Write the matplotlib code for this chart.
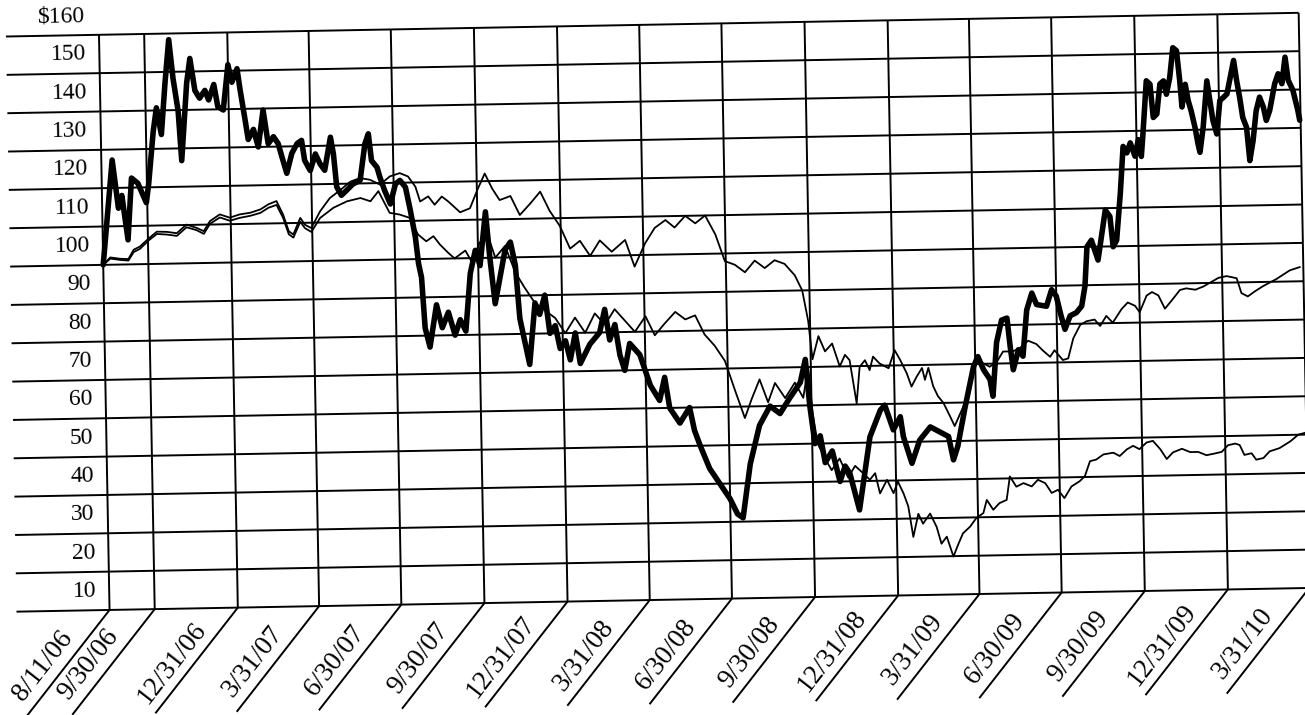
import math
import matplotlib
matplotlib.use("Agg")
import matplotlib.pyplot as plt
from matplotlib.transforms import Affine2D
import pandas as pd

# ---------------- data ----------------
tick_labels = ['8/11/06', '9/30/06', '12/31/06', '3/31/07', '6/30/07', '9/30/07',
               '12/31/07', '3/31/08', '6/30/08', '9/30/08', '12/31/08', '3/31/09',
               '6/30/09', '9/30/09', '12/31/09', '3/31/10']
y_values = [10, 20, 30, 40, 50, 60, 70, 80, 90, 100, 110, 120, 130, 140, 150, 160]
y_labels = ['10', '20', '30', '40', '50', '60', '70', '80', '90', '100', '110',
            '120', '130', '140', '150', '$160']

# days since 8/11/06
bold_days = [0, 12, 18, 22, 28, 33, 40, 49, 52, 58,
             62, 67, 72, 77, 81, 86, 89, 96, 100, 105,
             110, 116, 120, 126, 130, 136, 142, 146, 152, 155,
             160, 163, 169, 174, 180, 185, 191, 196, 201, 205,
             211, 217, 222, 225, 231, 237, 242, 247, 254, 257,
             260, 265, 271, 278, 286, 292, 296, 299, 305, 308,
             313, 319, 325, 330, 336, 341, 346, 349, 352, 355,
             360, 368, 374, 381, 388, 394, 400, 406, 412, 417,
             424, 428, 433, 439, 445, 451, 456, 460, 465, 470,
             477, 482, 488, 493, 499, 504, 510, 515, 521, 526,
             537, 548, 554, 559, 565, 570, 575, 581, 592, 603,
             613, 619, 624, 635, 646, 651, 657, 667, 678, 689,
             697, 703, 712, 723, 735, 746, 757, 769, 775, 779,
             784, 790, 795, 803, 811, 817, 822, 832, 845, 857,
             862, 871, 879, 882, 891, 900, 912, 922, 932, 937,
             942, 951, 961, 966, 972, 979, 982, 987, 993, 999,
             1002, 1005, 1011, 1016, 1021, 1027, 1032, 1043, 1049, 1054,
             1059, 1063, 1069, 1076, 1082, 1086, 1089, 1094, 1101, 1110,
             1115, 1118, 1122, 1127, 1131, 1135, 1139, 1144, 1148, 1151,
             1153, 1158, 1162, 1165, 1169, 1173, 1177, 1180, 1184, 1188,
             1192, 1195, 1197, 1201, 1204, 1207, 1211, 1214, 1216, 1220,
             1225, 1228, 1231, 1235, 1239, 1243, 1247, 1251, 1255, 1258,
             1261, 1264, 1268, 1271, 1275, 1279, 1283, 1287, 1290, 1294,
             1300, 1304, 1308, 1312, 1315, 1320, 1325, 1327]
bold_vals = [100, 127.3, 114.7, 118, 106.4, 122.5, 121.1, 116, 121, 134.5,
             140.7, 133.7, 147, 158.4, 148.3, 139.8, 126.8, 147, 153.4, 145,
             143, 145, 142.5, 146.5, 140.7, 139.8, 151.6, 147, 150.5, 145,
             137, 132, 134.6, 130, 139.6, 130.8, 132.6, 130.8, 126.4, 123,
             128.2, 130.7, 131.5, 126.3, 123.6, 127.9, 125.3, 123.6, 132.2, 127.8,
             119.2, 117, 118.3, 119.9, 120.8, 130.3, 132.9, 125.9, 124.1, 121.5,
             118, 114.5, 119.7, 120.6, 118.8, 112.7, 105.7, 98.8, 95.2, 82,
             77, 88, 82, 86, 80, 84, 81, 96, 102, 98,
             112, 100, 88, 95, 102, 104, 98, 84, 78, 72,
             88, 85, 90, 80, 82, 76, 78, 73, 80, 72,
             77, 80, 86, 78, 82, 74, 70, 77, 74, 66,
             62, 68, 60, 56, 60, 54, 50, 44, 40, 36,
             32, 31, 45, 55, 60, 58, 62, 66, 72, 60,
             50, 52, 45, 48, 40, 44, 42.1, 32.5, 51.5, 58.4,
             59.7, 53.2, 56.6, 51.4, 44.4, 50.4, 53.8, 52.5, 51.2, 45.1,
             48.6, 58.9, 69.3, 71.9, 68.5, 65.9, 61.5, 75.5, 81.3, 81.8,
             74.4, 68.3, 73.5, 71.8, 83.8, 88.2, 85.2, 84.7, 89, 87.3,
             82.1, 78.6, 82.1, 82.9, 84.6, 89.8, 100, 101.7, 96.5, 109.5,
             107.8, 99.9, 101.6, 113.8, 126, 124.3, 126.9, 123.4, 127.7, 123.3,
             128.5, 143, 142.1, 133.4, 134.3, 142.1, 142.9, 139.4, 143.7, 151.5,
             150.7, 142.9, 136, 141.9, 137.6, 135, 130.6, 126.3, 124.1, 130.6,
             142.7, 137.5, 132.3, 128.8, 137.5, 138.3, 139.2, 143.5, 147.9, 142.6,
             138.2, 133, 130.4, 121.7, 126.9, 134.7, 138.2, 135.6, 132.1, 134.7,
             141.6, 144.2, 141.6, 148.5, 142.5, 139.9, 134.7, 132]

upper_days = [0, 8, 19, 28, 34, 41, 51, 60, 71, 82,
              93, 104, 112, 119, 130, 141, 152, 164, 175, 184,
              193, 200, 206, 211, 219, 224, 231, 241, 252, 264,
              275, 286, 297, 308, 319, 330, 339, 347, 352, 361,
              368, 376, 383, 396, 407, 416, 424, 432, 440, 452,
              462, 474, 485, 495, 506, 517, 528, 539, 550, 563,
              578, 588, 600, 611, 623, 633, 645, 656, 667, 678,
              688, 699, 710, 721, 732, 743, 754, 765, 773, 779,
              783, 790, 797, 805, 813, 819, 824, 831, 835, 841,
              846, 850, 857, 867, 874, 880, 887, 892, 898, 904,
              907, 911, 916, 921, 927, 934, 939, 951, 957, 965,
              972, 979, 987, 994, 1005, 1013, 1022, 1031, 1038, 1046,
              1051, 1060, 1066, 1072, 1080, 1087, 1096, 1102, 1109, 1116,
              1126, 1133, 1141, 1146, 1154, 1160, 1167, 1174, 1182, 1191,
              1198, 1208, 1217, 1224, 1234, 1243, 1254, 1259, 1266, 1274,
              1283, 1298, 1313, 1324]
upper_vals = [100, 101.9, 101.5, 101.4, 103.8, 104.6, 106.7, 108.4, 108.3, 107.9,
              110.1, 109.2, 108.3, 110.9, 112.6, 111.7, 112.5, 112.9, 113.7, 115,
              115.8, 112.3, 107.9, 107, 111.3, 109.5, 108.6, 112.9, 116.3, 118.4,
              120.5, 121.4, 120.9, 119.6, 121.7, 122.5, 121.6, 118.9, 115, 116.3,
              114.1, 116.2, 114.9, 112, 113, 118, 122, 118, 115, 116,
              111, 114, 117, 112, 108, 102, 104, 100, 104, 101,
              104, 97, 103, 107, 109, 107, 110, 108, 110, 105,
              98, 97, 95, 98, 96, 98, 97, 94, 90, 82,
              72, 78, 74, 76, 70, 73, 71.6, 60.3, 69.8, 71.5,
              68.9, 72.4, 70.6, 69.3, 74, 71.4, 67.9, 64.4, 67, 69.2,
              66.1, 69.2, 64.4, 61.8, 60, 56.5, 53.9, 60, 66, 71,
              70.1, 69.2, 70.5, 73.1, 73.1, 74, 75.8, 74.9, 73.2, 71.5,
              73.2, 70.6, 71, 76.2, 79.7, 80.6, 81, 79.3, 81.9, 80.1,
              83.6, 85.3, 84.4, 82.7, 87, 87.9, 87, 83.5, 85.7, 88.3,
              88.7, 88.3, 89.1, 90, 91.3, 91.7, 91.1, 87.2, 86.3, 87.6,
              88.9, 90.7, 92.9, 93.7]

lower_days = [0, 8, 19, 28, 34, 41, 51, 60, 71, 82,
              93, 104, 112, 119, 130, 141, 152, 164, 175, 184,
              193, 200, 206, 211, 219, 224, 231, 241, 256, 271,
              286, 297, 306, 318, 329, 340, 349, 358, 366, 373,
              382, 389, 401, 408, 417, 426, 434, 445, 456, 466,
              477, 488, 499, 510, 521, 532, 543, 554, 565, 576,
              587, 599, 609, 620, 632, 643, 654, 664, 675, 686,
              697, 707, 715, 724, 733, 741, 752, 763, 772, 778,
              782, 787, 795, 802, 811, 820, 828, 837, 844, 850,
              855, 863, 870, 875, 881, 886, 891, 897, 902, 910,
              917, 922, 928, 935, 941, 946, 954, 961, 969, 973,
              980, 987, 995, 999, 1006, 1014, 1023, 1030, 1038, 1045,
              1052, 1059, 1067, 1076, 1082, 1088, 1095, 1103, 1114, 1121,
              1129, 1136, 1143, 1151, 1158, 1166, 1173, 1180, 1190, 1199,
              1208, 1217, 1226, 1234, 1241, 1249, 1254, 1259, 1267, 1272,
              1280, 1287, 1298, 1310, 1319, 1327]
lower_vals = [100, 101.6, 101.2, 101, 103.2, 104, 106.2, 107.8, 107.6, 107.2,
              109.4, 108.6, 107.6, 110.2, 111.8, 110.9, 111.6, 112.1, 112.8, 114.1,
              114.8, 111.4, 107.1, 106.2, 110.3, 108.6, 107.6, 111.2, 113.8, 115.4,
              116.2, 115.3, 117.9, 112.2, 111.7, 110.8, 106.4, 104.6, 105.9, 103.7,
              101.5, 100, 102, 99, 104, 106, 100, 103, 96, 92,
              88, 86, 84, 80, 84, 80, 85, 82, 86, 83,
              80, 84, 79, 82, 85, 83, 84, 79, 76, 72,
              64, 57, 62, 67, 61, 66, 62, 66, 62, 70,
              58, 50, 46, 43, 46, 41, 44, 42, 40.3, 42,
              36.7, 40.2, 36.7, 39.7, 36.6, 33.2, 25.2, 31.2, 28.6, 31.2,
              27.7, 23.3, 25.1, 19.9, 23.3, 25.9, 27.6, 29.8, 31.1, 34.5,
              31.9, 33.6, 34.4, 40.5, 37.8, 38.7, 37.8, 39.5, 38.6, 36,
              36.8, 34.6, 37.6, 38.9, 40.2, 44.1, 44.5, 45.8, 46.2, 45.3,
              47, 47.9, 47, 48.7, 49.1, 46.9, 44.3, 46, 46.9, 46,
              46, 45.1, 45.5, 45.9, 47.6, 48, 47.6, 45, 45.4, 43.7,
              44.1, 45.8, 46.6, 48.3, 50, 50.5]

# ---------------- figure / geometry ----------------
W, H = 1305, 715
fig = plt.figure(figsize=(W / 100, H / 100), dpi=100)
ax = fig.add_axes([0, 0, 1, 1])
ax.axis('off')

PX_PER_DAY = 0.9035
PX_PER_UNIT = 3.835
X0, Y0 = 99.0, H - 34.8          # display position of (day 0, value 160)
ANGLE = 1.05                      # scan tilt (deg, counter-clockwise)
ax.set_xlim(-X0 / PX_PER_DAY, (W - X0) / PX_PER_DAY)
ax.set_ylim(160 - Y0 / PX_PER_UNIT, 160 + (H - Y0) / PX_PER_UNIT)
T = ax.transData + Affine2D().rotate_deg_around(X0, Y0, ANGLE)

start = pd.Timestamp('2006-08-11')
tick_days = [(pd.to_datetime(s, format='%m/%d/%y') - start).days for s in tick_labels]
last_day = tick_days[-1]
left_day = -103

serif = ['Liberation Serif', 'DejaVu Serif']
grid_kw = dict(color='black', lw=1.4, transform=T, clip_on=False, solid_capstyle='butt')

# horizontal grid lines
for v in y_values:
    ax.plot([left_day, last_day], [v, v], **grid_kw)
# vertical grid lines
for d in tick_days:
    ax.plot([d, d], [y_values[0], y_values[-1]], **grid_kw)
# diagonal tick strokes below the grid
DIAG_DEG = 51.0
L = 134.0
ddx = -L * math.cos(math.radians(DIAG_DEG)) / PX_PER_DAY
ddy = -L * math.sin(math.radians(DIAG_DEG)) / PX_PER_UNIT
for d in tick_days:
    ax.plot([d, d + ddx], [y_values[0], y_values[0] + ddy], **grid_kw)

# y labels (sit in the row above their line)
for v, s in zip(y_values, y_labels):
    ax.text(-14.5, v + 5, s, transform=T, ha='right', va='center',
            fontsize=17, family=serif, rotation=ANGLE, rotation_mode='anchor')

# x labels along the diagonals
t = 0.63
off = 18.0
nx = -math.sin(math.radians(DIAG_DEG)) * off / PX_PER_DAY
ny = math.cos(math.radians(DIAG_DEG)) * off / PX_PER_UNIT
for d, s in zip(tick_days, tick_labels):
    ax.text(d + t * ddx + nx, y_values[0] + t * ddy + ny, s, transform=T,
            ha='center', va='center', fontsize=19.5, family=serif,
            rotation=DIAG_DEG + ANGLE, rotation_mode='anchor')

# series
ax.plot(upper_days, upper_vals, color='black', lw=1.3, transform=T, clip_on=False,
        solid_joinstyle='round', zorder=3)
ax.plot(lower_days, lower_vals, color='black', lw=1.3, transform=T, clip_on=False,
        solid_joinstyle='round', zorder=3)
ax.plot(bold_days, bold_vals, color='black', lw=4.0, transform=T, clip_on=False,
        solid_joinstyle='round', solid_capstyle='round', zorder=4)

fig.savefig('out.png', dpi=100)
